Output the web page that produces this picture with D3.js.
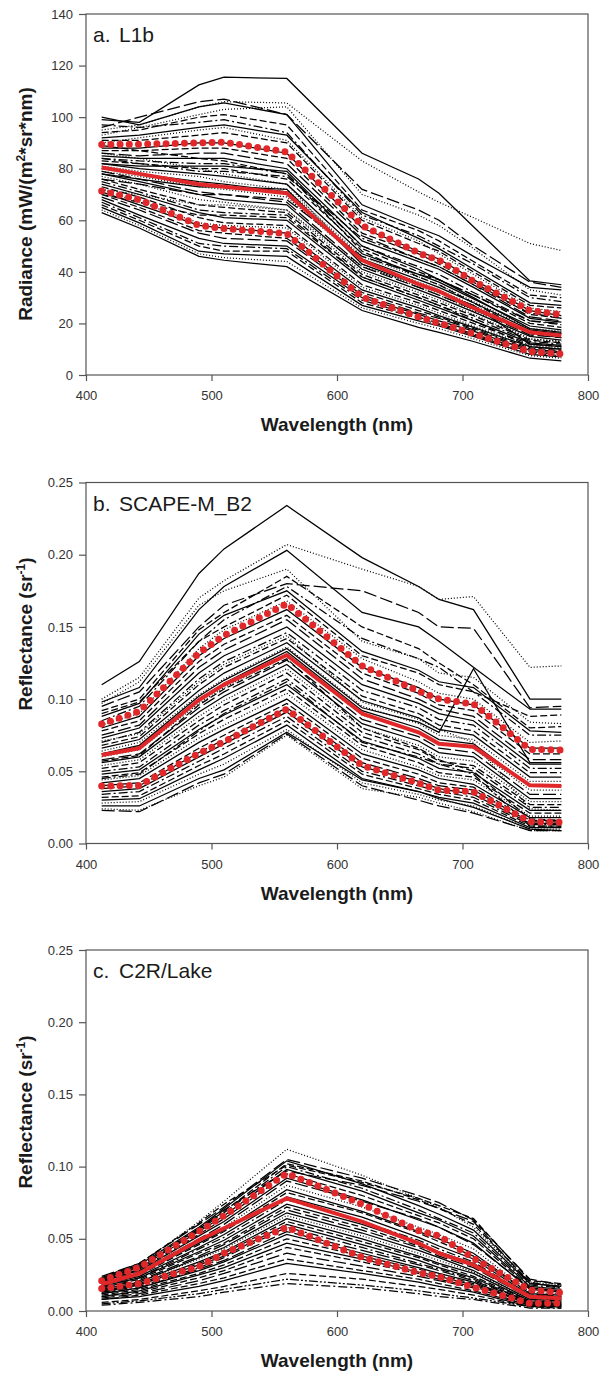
<!DOCTYPE html>
<html lang="en">
<head>
<meta charset="utf-8">
<title>spectra panels</title>
<style>
  body { margin:0; background:#fff; }
  svg { display:block; font-family: Arial, "Liberation Sans", sans-serif; }
  .frame { fill:none; stroke:#555; stroke-width:1.2px; }
  .axis path.domain { display:none; }
  .axis line { stroke:#555; stroke-width:1.2px; }
  .axis text { font-size:13px; fill:#333; font-family: Arial, "Liberation Sans", sans-serif; }
  path.spec { fill:none; stroke:#000; stroke-width:1.25px; }
  path.mean { fill:none; stroke:#e0282a; stroke-width:4px; stroke-linejoin:round; }
  path.sd { fill:none; stroke:#e0282a; stroke-width:7px; stroke-linecap:round; stroke-dasharray:0 9.2; }
  .title { font-size:19px; font-weight:bold; fill:#1a1a1a; }
  .plabel { font-size:21px; fill:#1a1a1a; }
</style>
</head>
<body>
<script src="https://cdn.jsdelivr.net/npm/d3@7"></script>
<script>

// MERIS band centres (nm)
var wavelengths = [412.5, 442.5, 490, 510, 560, 620, 665, 681.25, 708.75, 753.75, 778.75];
var xTicks = [400, 500, 600, 700, 800];
var radianceTicks = [0, 20, 40, 60, 80, 100, 120, 140];
var reflTicks = [0, 0.05, 0.10, 0.15, 0.20, 0.25];

// a. L1b radiance
var l1bSpectra = [
  [99, 98, 112.5, 115.5, 115, 86, 76, 70.5, 57.5, 36.5, 35],
  [95, 97, 104, 106, 105.5, 83, 71, 67, 61, 51, 48.3],
  [96, 100, 106, 107, 101, 72, 64, 60, 50, 36, 34],
  [100, 97, 104, 105.5, 101, 66, 57, 54, 46, 34, 33],
  [93, 96, 101, 103, 104, 70, 62, 58, 49, 33, 31],
  [94, 95, 100, 101, 97, 64, 56, 52, 44, 31, 30],
  [97, 96, 98, 99, 94, 62, 54, 50, 43, 30, 28.5],
  [92, 93, 96, 97, 93, 63, 53, 49, 41, 28, 27],
  [91, 91, 93, 94, 90, 60, 51, 48, 40, 27, 26],
  [90, 92, 95, 96, 91, 61, 52, 47, 39, 26, 24.5],
  [88, 88, 90, 90, 86, 57, 48, 45, 37, 25, 23],
  [87, 87, 88, 88, 84, 55, 47, 43, 36, 23.5, 22],
  [86, 85, 86, 86, 82, 54, 45, 42, 35, 22.5, 21],
  [85, 84, 84, 84, 80, 52, 44, 41, 34, 22, 20.5],
  [84, 83, 82, 82, 78, 50, 42, 39, 32, 21, 19.5],
  [83, 82, 80, 80, 76, 49, 40, 37, 31, 20, 18.5],
  [82, 80, 78, 77, 74, 47, 39, 36, 29.5, 19, 17.5],
  [81, 79, 77, 75, 72, 46, 38, 35, 28.5, 18, 17],
  [80, 78, 75, 74, 71, 45, 37, 34, 28, 17.5, 16],
  [79, 77, 73, 72, 69, 44, 36, 33, 27, 16.5, 15],
  [79, 76, 71, 70, 67, 42, 34, 31, 25.5, 15.5, 14.5],
  [78, 75, 70, 68, 66, 41, 33, 30, 24.5, 15, 13.5],
  [77, 74, 68, 67, 64, 40, 32, 29, 23.5, 14, 13],
  [76, 72, 66, 65, 63, 39, 31, 28, 23, 13.5, 12.5],
  [75, 71, 64, 63, 62, 38, 30, 27, 22, 13, 12],
  [74, 70, 63, 61, 60, 37, 29, 26, 21, 12.5, 11.5],
  [73, 69, 61, 59, 58, 35, 28, 25, 20, 12, 11],
  [72, 67, 59, 58, 57, 34, 27, 24, 19, 11.5, 10.5],
  [71, 66, 58, 57, 55, 33, 26, 23, 18.5, 11, 10],
  [70, 65, 56, 55, 53, 32, 25, 22.5, 18, 10.5, 9.5],
  [69, 64, 55, 53, 52, 31, 24, 22, 17.5, 10, 9],
  [68, 62, 53, 51, 50, 30, 23.5, 21, 17, 9.5, 8.5],
  [67, 61, 51, 50, 49, 29, 22.5, 20, 16, 9, 8],
  [66, 60, 50, 48, 48, 28, 22, 19.5, 15.5, 8.5, 7.5],
  [65, 59, 48, 47, 46, 27, 21, 19, 15, 8, 7],
  [64, 58, 47, 45.5, 44, 26, 20, 18, 14, 7.5, 6.5],
  [63, 57, 46, 44.5, 42, 25, 18.5, 16.5, 13, 6.5, 5.5],
  [86, 84, 80, 78, 74, 43, 34, 31, 25, 14, 13],
  [76, 74, 70, 70, 68, 46, 39, 37, 31, 21, 20],
  [82, 81, 81, 81, 79, 50, 41, 37, 30, 18, 16.5],
  [72, 70, 66, 66, 64, 42, 35, 32, 26, 17, 16],
  [89, 87, 84, 83, 78, 48, 38, 35, 28, 16, 14.5],
  [84, 82, 79, 79, 77, 53, 45, 42, 35, 24, 22],
  [78, 76, 73, 73, 72, 43, 35, 32, 27, 12, 11],
  [70, 67, 62, 62, 61, 38, 30, 27, 21, 11, 10]
];
var l1bMean  = [80.5, 78, 74, 73, 70.5, 44.5, 35.2, 32.5, 26, 16.6, 15.3];
var l1bUpper = [89.4, 89.5, 90, 90.3, 86.5, 58, 47.3, 44.5, 36.4, 25, 23.4];
var l1bLower = [71.4, 68, 58, 56.8, 54.8, 30.2, 22.5, 20.1, 16, 9.1, 8.2];

// b. SCAPE-M_B2 reflectance
var scapeSpectra = [
  [0.110, 0.126, 0.187, 0.204, 0.234, 0.198, 0.178, 0.169, 0.162, 0.100, 0.100],
  [0.100, 0.115, 0.170, 0.182, 0.207, 0.190, 0.178, 0.169, 0.171, 0.122, 0.123],
  [0.095, 0.105, 0.150, 0.165, 0.180, 0.175, 0.160, 0.150, 0.149, 0.094, 0.095],
  [0.098, 0.108, 0.162, 0.178, 0.203, 0.160, 0.150, 0.140, 0.122, 0.093, 0.093],
  [0.097, 0.112, 0.165, 0.175, 0.190, 0.140, 0.128, 0.118, 0.115, 0.084, 0.083],
  [0.092, 0.100, 0.148, 0.160, 0.185, 0.150, 0.135, 0.125, 0.110, 0.080, 0.081],
  [0.085, 0.095, 0.140, 0.155, 0.178, 0.142, 0.128, 0.122, 0.105, 0.075, 0.075],
  [0.088, 0.097, 0.145, 0.158, 0.175, 0.133, 0.120, 0.112, 0.108, 0.078, 0.077],
  [0.090, 0.098, 0.140, 0.150, 0.172, 0.130, 0.118, 0.110, 0.105, 0.088, 0.089],
  [0.082, 0.090, 0.135, 0.148, 0.168, 0.128, 0.112, 0.104, 0.100, 0.070, 0.071],
  [0.080, 0.088, 0.130, 0.142, 0.162, 0.122, 0.108, 0.100, 0.096, 0.066, 0.066],
  [0.078, 0.085, 0.126, 0.138, 0.158, 0.118, 0.104, 0.096, 0.092, 0.062, 0.062],
  [0.075, 0.082, 0.122, 0.134, 0.155, 0.114, 0.100, 0.093, 0.088, 0.058, 0.058],
  [0.073, 0.080, 0.118, 0.130, 0.150, 0.110, 0.097, 0.090, 0.085, 0.055, 0.055],
  [0.070, 0.077, 0.114, 0.126, 0.146, 0.106, 0.094, 0.086, 0.082, 0.052, 0.052],
  [0.068, 0.074, 0.110, 0.122, 0.142, 0.102, 0.090, 0.082, 0.078, 0.049, 0.049],
  [0.066, 0.072, 0.106, 0.118, 0.139, 0.099, 0.087, 0.079, 0.075, 0.046, 0.046],
  [0.064, 0.070, 0.103, 0.114, 0.136, 0.095, 0.083, 0.075, 0.072, 0.043, 0.043],
  [0.062, 0.067, 0.100, 0.111, 0.133, 0.092, 0.080, 0.072, 0.069, 0.040, 0.040],
  [0.060, 0.065, 0.097, 0.108, 0.130, 0.089, 0.077, 0.069, 0.066, 0.037, 0.037],
  [0.058, 0.062, 0.094, 0.105, 0.127, 0.086, 0.074, 0.066, 0.063, 0.034, 0.034],
  [0.056, 0.060, 0.091, 0.102, 0.124, 0.083, 0.071, 0.063, 0.060, 0.031, 0.031],
  [0.054, 0.058, 0.088, 0.099, 0.121, 0.080, 0.068, 0.060, 0.057, 0.029, 0.029],
  [0.052, 0.056, 0.085, 0.096, 0.118, 0.077, 0.065, 0.057, 0.054, 0.027, 0.027],
  [0.050, 0.053, 0.082, 0.092, 0.114, 0.074, 0.062, 0.055, 0.052, 0.025, 0.025],
  [0.048, 0.051, 0.079, 0.089, 0.110, 0.071, 0.059, 0.052, 0.049, 0.023, 0.023],
  [0.046, 0.049, 0.076, 0.086, 0.107, 0.068, 0.056, 0.049, 0.046, 0.021, 0.021],
  [0.044, 0.047, 0.073, 0.082, 0.104, 0.065, 0.053, 0.047, 0.044, 0.019, 0.019],
  [0.042, 0.045, 0.070, 0.079, 0.100, 0.062, 0.051, 0.045, 0.041, 0.018, 0.018],
  [0.040, 0.042, 0.066, 0.075, 0.097, 0.059, 0.048, 0.042, 0.039, 0.016, 0.016],
  [0.038, 0.040, 0.063, 0.072, 0.094, 0.056, 0.045, 0.040, 0.037, 0.015, 0.015],
  [0.036, 0.038, 0.060, 0.069, 0.091, 0.053, 0.043, 0.038, 0.034, 0.014, 0.014],
  [0.034, 0.036, 0.057, 0.066, 0.088, 0.050, 0.040, 0.036, 0.032, 0.013, 0.013],
  [0.032, 0.033, 0.054, 0.062, 0.085, 0.048, 0.038, 0.034, 0.030, 0.012, 0.012],
  [0.030, 0.031, 0.051, 0.059, 0.082, 0.045, 0.036, 0.032, 0.028, 0.011, 0.011],
  [0.028, 0.029, 0.048, 0.055, 0.079, 0.042, 0.034, 0.030, 0.026, 0.010, 0.010],
  [0.026, 0.026, 0.045, 0.051, 0.077, 0.044, 0.036, 0.031, 0.025, 0.010, 0.009],
  [0.024, 0.023, 0.040, 0.046, 0.075, 0.038, 0.032, 0.028, 0.022, 0.009, 0.009],
  [0.023, 0.022, 0.042, 0.048, 0.076, 0.040, 0.030, 0.026, 0.021, 0.009, 0.009],
  [0.062, 0.068, 0.102, 0.113, 0.135, 0.094, 0.084, 0.077, 0.121, 0.056, 0.056],
  [0.071, 0.076, 0.112, 0.124, 0.144, 0.098, 0.086, 0.079, 0.070, 0.024, 0.023],
  [0.057, 0.061, 0.096, 0.107, 0.128, 0.080, 0.066, 0.058, 0.050, 0.017, 0.016],
  [0.045, 0.048, 0.078, 0.090, 0.112, 0.070, 0.060, 0.055, 0.048, 0.012, 0.012]
];
var scapeMean  = [0.0613, 0.066, 0.0994, 0.110, 0.1305, 0.090, 0.077, 0.069, 0.067, 0.0403, 0.0398];
var scapeUpper = [0.0827, 0.0915, 0.132, 0.144, 0.166, 0.123, 0.1055, 0.100, 0.0966, 0.0652, 0.0648];
var scapeLower = [0.0398, 0.0402, 0.0625, 0.0705, 0.093, 0.054, 0.0417, 0.037, 0.0359, 0.0151, 0.0147];

// c. C2R/Lake reflectance
var c2rSpectra = [
  [0.022, 0.032, 0.062, 0.076, 0.112, 0.094, 0.078, 0.072, 0.058, 0.020, 0.018],
  [0.024, 0.033, 0.060, 0.072, 0.105, 0.092, 0.080, 0.075, 0.063, 0.022, 0.018],
  [0.023, 0.032, 0.058, 0.071, 0.104, 0.088, 0.073, 0.067, 0.056, 0.019, 0.017],
  [0.022, 0.031, 0.057, 0.069, 0.102, 0.090, 0.077, 0.071, 0.060, 0.020, 0.016],
  [0.021, 0.030, 0.056, 0.068, 0.100, 0.085, 0.070, 0.064, 0.054, 0.018, 0.016],
  [0.022, 0.030, 0.055, 0.066, 0.098, 0.083, 0.068, 0.063, 0.052, 0.017, 0.015],
  [0.020, 0.029, 0.053, 0.064, 0.095, 0.080, 0.066, 0.061, 0.050, 0.016, 0.014],
  [0.021, 0.028, 0.052, 0.062, 0.092, 0.077, 0.063, 0.058, 0.047, 0.015, 0.013],
  [0.020, 0.027, 0.050, 0.060, 0.090, 0.076, 0.064, 0.058, 0.046, 0.016, 0.013],
  [0.019, 0.027, 0.049, 0.058, 0.087, 0.072, 0.058, 0.053, 0.043, 0.013, 0.012],
  [0.019, 0.026, 0.047, 0.056, 0.084, 0.069, 0.055, 0.050, 0.040, 0.012, 0.011],
  [0.018, 0.025, 0.046, 0.055, 0.082, 0.068, 0.054, 0.048, 0.038, 0.012, 0.010],
  [0.018, 0.024, 0.044, 0.053, 0.079, 0.065, 0.051, 0.045, 0.036, 0.011, 0.010],
  [0.017, 0.023, 0.043, 0.051, 0.077, 0.062, 0.049, 0.043, 0.034, 0.010, 0.009],
  [0.017, 0.023, 0.041, 0.049, 0.074, 0.060, 0.047, 0.041, 0.033, 0.010, 0.009],
  [0.016, 0.022, 0.040, 0.047, 0.072, 0.058, 0.045, 0.040, 0.031, 0.009, 0.008],
  [0.016, 0.021, 0.038, 0.046, 0.070, 0.056, 0.044, 0.038, 0.030, 0.009, 0.008],
  [0.015, 0.020, 0.037, 0.044, 0.068, 0.054, 0.042, 0.037, 0.028, 0.008, 0.007],
  [0.015, 0.020, 0.036, 0.043, 0.066, 0.052, 0.040, 0.035, 0.027, 0.008, 0.007],
  [0.014, 0.019, 0.034, 0.041, 0.064, 0.050, 0.038, 0.033, 0.026, 0.007, 0.006],
  [0.014, 0.018, 0.033, 0.040, 0.062, 0.048, 0.037, 0.032, 0.024, 0.007, 0.006],
  [0.013, 0.018, 0.032, 0.038, 0.060, 0.046, 0.035, 0.030, 0.023, 0.006, 0.005],
  [0.013, 0.017, 0.030, 0.037, 0.058, 0.044, 0.033, 0.029, 0.022, 0.006, 0.005],
  [0.012, 0.016, 0.029, 0.035, 0.055, 0.042, 0.032, 0.028, 0.021, 0.006, 0.005],
  [0.012, 0.016, 0.028, 0.034, 0.053, 0.040, 0.030, 0.026, 0.020, 0.005, 0.004],
  [0.011, 0.015, 0.026, 0.032, 0.050, 0.038, 0.029, 0.025, 0.019, 0.005, 0.004],
  [0.010, 0.014, 0.025, 0.030, 0.047, 0.036, 0.027, 0.024, 0.018, 0.005, 0.004],
  [0.010, 0.013, 0.023, 0.028, 0.044, 0.034, 0.026, 0.022, 0.017, 0.004, 0.004],
  [0.009, 0.012, 0.021, 0.026, 0.040, 0.031, 0.024, 0.021, 0.016, 0.004, 0.003],
  [0.008, 0.011, 0.019, 0.023, 0.036, 0.028, 0.022, 0.019, 0.014, 0.004, 0.003],
  [0.008, 0.010, 0.017, 0.021, 0.033, 0.026, 0.020, 0.017, 0.013, 0.003, 0.003],
  [0.005, 0.007, 0.012, 0.015, 0.022, 0.018, 0.014, 0.012, 0.009, 0.003, 0.003],
  [0.004, 0.006, 0.010, 0.013, 0.019, 0.016, 0.012, 0.010, 0.008, 0.002, 0.002],
  [0.006, 0.008, 0.014, 0.017, 0.026, 0.022, 0.017, 0.015, 0.011, 0.003, 0.002],
  [0.023, 0.033, 0.061, 0.074, 0.101, 0.089, 0.078, 0.073, 0.064, 0.021, 0.019],
  [0.021, 0.031, 0.057, 0.070, 0.097, 0.087, 0.076, 0.071, 0.062, 0.019, 0.017]
];
var c2rMean  = [0.0185, 0.026, 0.049, 0.0573, 0.078, 0.0619, 0.0469, 0.040, 0.0319, 0.0099, 0.0088];
var c2rUpper = [0.021, 0.0303, 0.055, 0.066, 0.0953, 0.074, 0.0556, 0.052, 0.0365, 0.0145, 0.0127];
var c2rLower = [0.0155, 0.019, 0.0307, 0.040, 0.058, 0.0372, 0.0265, 0.0238, 0.0164, 0.0053, 0.0053];

// line styles (one per black spectrum, cycled)
var dashes = {
  solid: null,
  dot: "1,2",
  dash: "7,3",
  long: "13,4",
  dashdot: "9,3,2,3",
  dashdotdot: "9,2,2,2,2,2"
};
var styleCycle = ["solid", "dot", "long", "solid", "dot", "dash", "dashdot", "solid", "dash", "dot",
                  "solid", "dash", "long", "solid", "dashdot", "dash", "solid", "dot"];
var c2rStyles = ["dot", "long", "solid", "dash", "dashdot", "solid", "dash", "solid", "long", "dot",
                 "solid", "dash", "solid", "dashdot", "solid", "dash", "long", "solid", "dot", "solid",
                 "dash", "solid", "dashdot", "long", "solid", "dash", "solid", "dash", "long", "dash",
                 "solid", "dashdotdot", "dashdot", "dash", "dash", "long"];

var fullwidth = 600, fullheight = 1375;
var plotLeft = 86, plotRight = 588, plotHeight = 361;

var panels = [
  { top: 14, max: 140, ticks: radianceTicks, fmt: d3.format("d"),
    spectra: l1bSpectra, mean: l1bMean, upper: l1bUpper, lower: l1bLower,
    letter: "a.", name: "L1b", yTitle: "radiance", yMid: 204, styles: null },
  { top: 482.5, max: 0.25, ticks: reflTicks, fmt: d3.format(".2f"),
    spectra: scapeSpectra, mean: scapeMean, upper: scapeUpper, lower: scapeLower,
    letter: "b.", name: "SCAPE-M_B2", yTitle: "refl", yMid: 634, styles: null },
  { top: 950, max: 0.25, ticks: reflTicks, fmt: d3.format(".2f"),
    spectra: c2rSpectra, mean: c2rMean, upper: c2rUpper, lower: c2rLower,
    letter: "c.", name: "C2R/Lake", yTitle: "refl", yMid: 1112, styles: c2rStyles }
];

var svg = d3.select("body")
  .append("svg")
  .attr("width", fullwidth)
  .attr("height", fullheight);

var xScale = d3.scaleLinear()
  .domain([400, 800])
  .range([plotLeft, plotRight]);

panels.forEach(function(p) {

  var yScale = d3.scaleLinear()
    .domain([0, p.max])
    .range([p.top + plotHeight, p.top]);

  var line = d3.line()
    .x(function(d, i) { return xScale(wavelengths[i]); })
    .y(function(d) { return yScale(d); });

  var g = svg.append("g");

  function styleOf(i) {
    return p.styles ? p.styles[i % p.styles.length] : styleCycle[i % styleCycle.length];
  }

  // black spectra
  g.selectAll("path.spec")
    .data(p.spectra)
    .enter()
    .append("path")
    .attr("class", "spec")
    .attr("d", line)
    .attr("stroke-dasharray", function(d, i) { return dashes[styleOf(i)]; })
    .attr("stroke-width", function(d, i) { return styleOf(i) == "dot" ? 1 : 1.25; });

  // mean and +/- sd
  g.append("path").attr("class", "mean").attr("d", line(p.mean));
  g.append("path").attr("class", "sd").attr("d", line(p.upper));
  g.append("path").attr("class", "sd").attr("d", line(p.lower));

  // frame
  g.append("rect")
    .attr("class", "frame")
    .attr("x", plotLeft)
    .attr("y", p.top)
    .attr("width", plotRight - plotLeft)
    .attr("height", plotHeight);

  // axes
  g.append("g")
    .attr("class", "axis")
    .attr("transform", "translate(" + plotLeft + ",0)")
    .call(d3.axisLeft(yScale).tickValues(p.ticks).tickFormat(p.fmt).tickSize(7).tickPadding(6));

  g.append("g")
    .attr("class", "axis")
    .attr("transform", "translate(0," + (p.top + plotHeight) + ")")
    .call(d3.axisBottom(xScale).tickValues(xTicks).tickFormat(d3.format("d")).tickSize(6).tickPadding(10));

  // panel label
  var lab = g.append("text")
    .attr("class", "plabel")
    .attr("y", p.top + 28);
  lab.append("tspan").attr("x", 93).text(p.letter);
  lab.append("tspan").attr("x", 119).text(p.name);

  // x title
  g.append("text")
    .attr("class", "title")
    .attr("x", (plotLeft + plotRight) / 2)
    .attr("y", p.top + plotHeight + 56)
    .style("text-anchor", "middle")
    .text("Wavelength (nm)");

  // y title
  var yt = g.append("text")
    .attr("class", "title")
    .attr("transform", "translate(32," + p.yMid + ") rotate(-90)")
    .style("text-anchor", "middle");

  if (p.yTitle == "radiance") {
    yt.append("tspan").text("Radiance (mW/(m");
    yt.append("tspan").attr("dy", -7).style("font-size", "12px").text("2");
    yt.append("tspan").attr("dy", 7).text("*sr*nm)");
  } else {
    yt.append("tspan").text("Reflectance (sr");
    yt.append("tspan").attr("dy", -7).style("font-size", "12px").text("-1");
    yt.append("tspan").attr("dy", 7).text(")");
  }
});

</script>
</body>
</html>
